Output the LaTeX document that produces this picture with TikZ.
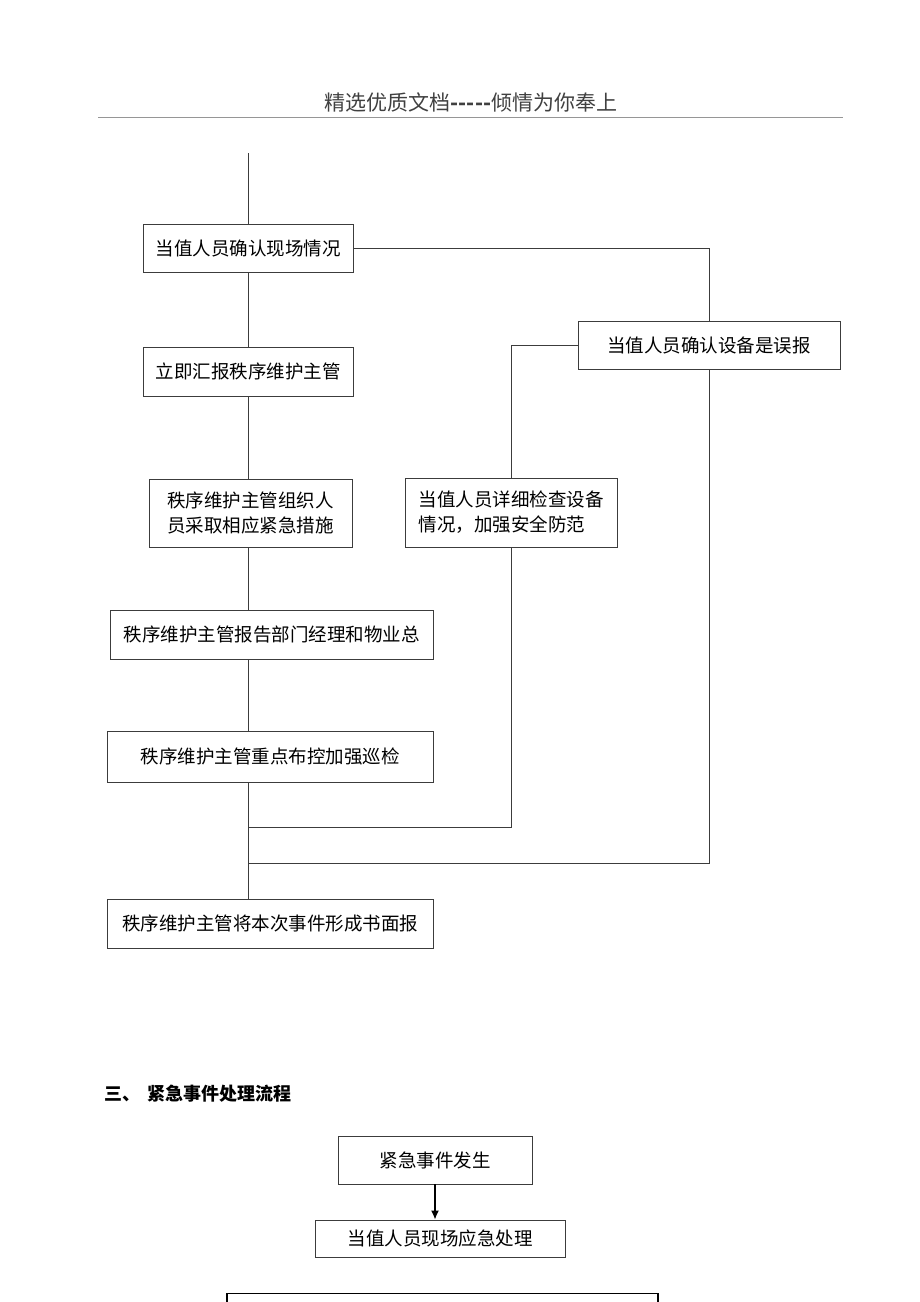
\documentclass[tikz,border=0pt]{standalone}
\usepackage{fontspec}
\newfontfamily\cjk{Noto Sans CJK SC}
\usetikzlibrary{arrows.meta, positioning}
\definecolor{boxgray}{RGB}{60,60,60}
\definecolor{rulegray}{RGB}{150,150,150}
\tikzset{
  flowbox/.style={draw=boxgray, line width=0.9pt, inner sep=0pt, align=center,
    font=\cjk\fontsize{18.5}{25}\selectfont},
  link/.style={draw=boxgray, line width=0.8pt},
}
\newcommand{\hyph}{\hbox{-}}

\begin{document}
\begin{tikzpicture}[x=1pt, y=-1pt]
    \useasboundingbox (0,0) rectangle (920,1302);

    % Page header
    \node[font=\cjk\fontsize{21}{21}\selectfont, text=black!75] (header) at (471,102)
        {精选优质文档{\bfseries\hyph\hyph\hyph\hyph\hyph}倾情为你奉上};
    \draw[rulegray, line width=0.6pt] (98,117) -- (843,117);

    % Main column
    \coordinate (spine) at (248,153);
    \node[flowbox, minimum width=210, minimum height=48] (confirm) at (248,248) {当值人员确认现场情况};
    \node[flowbox, minimum width=210, minimum height=49] (report) at (248,371.5) {立即汇报秩序维护主管};
    \node[flowbox, minimum width=203, minimum height=68] (organize) at (250.5,513) {秩序维护主管组织人\\员采取相应紧急措施};
    \node[flowbox, minimum width=323, minimum height=49] (manager) at (271.5,634.5) {秩序维护主管报告部门经理和物业总};
    \node[flowbox, minimum width=326, minimum height=51] (patrol) at (270,756.5) {秩序维护主管重点布控加强巡检};
    \node[flowbox, minimum width=326, minimum height=49] (written) at (270,923.5) {秩序维护主管将本次事件形成书面报};

    % False alarm branch
    \node[flowbox, minimum width=262, minimum height=48] (falsealarm) at (709,345) {当值人员确认设备是误报};
    \node[flowbox, align=left, minimum width=212, minimum height=69] (inspect) at (511,512.5) {当值人员详细检查设备\\情况，加强安全防范};
    \coordinate (mergeA) at (248,827);
    \coordinate (mergeB) at (248,863);

    % Connections
    \draw[link] (spine) -- (confirm.north);
    \foreach \a/\b in {confirm/report, report/organize, organize/manager, manager/patrol, patrol/written} {
        \draw[link] (\a.south -| spine) -- (\b.north -| spine);
    }
    \draw[link] (confirm.east) -| (falsealarm.north);
    \draw[link] (falsealarm.west) -| (inspect.north);
    \draw[link] (inspect.south) |- (mergeA);
    \draw[link] (falsealarm.south) |- (mergeB);

    % Section three
    \node[anchor=west, font=\cjk\bfseries\fontsize{18}{18}\selectfont] (section) at (101,1094)
        {三、\hspace{7pt}紧急事件处理流程};
    \node[flowbox, minimum width=194, minimum height=48] (occur) at (435,1160) {紧急事件发生};
    \node[flowbox, minimum width=250, minimum height=37] (handle) at (440,1238.5) {当值人员现场应急处理};
    \node[flowbox, draw=black, line width=1.1pt, minimum width=431, minimum height=40, anchor=north] (next) at (442.5,1293) {};
    \draw[black, line width=1.4pt, -{Latex[length=9pt, width=8pt]}] (occur.south) -- (occur.south |- handle.north);
\end{tikzpicture}
\end{document}
